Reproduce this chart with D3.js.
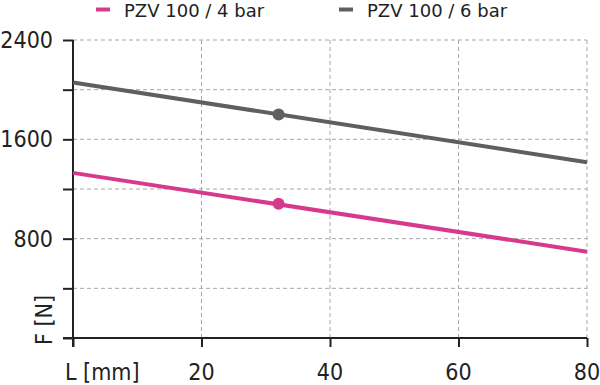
<!DOCTYPE html>
<html>
<head>
<meta charset="utf-8">
<script src="https://cdn.jsdelivr.net/npm/d3@7"></script>
<style>
  body { margin: 0; background: #fff; }
  text { font-family: "DejaVu Sans Condensed", "DejaVu Sans", sans-serif; fill: #222; }
</style>
</head>
<body>
<svg id="chart"></svg>
<script>
var lengths = [0, 80]
var force4bar = [1330, 695]
var force6bar = [2058, 1415]
var markLength = 32
var markForce = [1082, 1800]
var seriesNames = ["PZV 100 / 4 bar", "PZV 100 / 6 bar"]
var colors = ["#d63a8e", "#5f5f5f"]
var xTicks = [0, 20, 40, 60, 80]
var yTicks = [0, 400, 800, 1200, 1600, 2000, 2400]
var yLabels = [800, 1600, 2400]

var width = 600,
    height = 385

var svg = d3.select("#chart")
    .attr("width", width)
    .attr("height", height)

var x = d3.scaleLinear().domain([0, 80]).range([73, 587])
var y = d3.scaleLinear().domain([0, 2400]).range([338, 40])

// grid
svg.selectAll(".hgrid").data(yTicks.filter(function(d){ return d > 0 }))
    .enter().append("line")
    .attr("x1", x(0)).attr("x2", x(80))
    .attr("y1", function(d){ return y(d) }).attr("y2", function(d){ return y(d) })
    .style("stroke", "#a8a8a8").style("stroke-width", 1).style("stroke-dasharray", "4,3")

svg.selectAll(".vgrid").data(xTicks.filter(function(d){ return d > 0 }))
    .enter().append("line")
    .attr("x1", function(d){ return x(d) }).attr("x2", function(d){ return x(d) })
    .attr("y1", y(2400)).attr("y2", y(0))
    .style("stroke", "#a8a8a8").style("stroke-width", 1).style("stroke-dasharray", "4,3")

// axes
var xAxis = d3.axisBottom(x).tickValues(xTicks).tickSize(9).tickFormat("")
var yAxis = d3.axisLeft(y).tickValues(yTicks).tickSize(10).tickFormat("")

svg.append("g").attr("transform", "translate(0," + y(0) + ")").call(xAxis)
    .call(function(g){ g.select(".domain").attr("d", "M" + (x(0) - 10) + ",0H" + x(80)) })
svg.append("g").attr("transform", "translate(" + x(0) + ",0)").call(yAxis)
    .call(function(g){ g.select(".domain").attr("d", "M0," + y(2400) + "V" + (y(0) + 9)) })

svg.selectAll(".domain, .tick line").style("stroke", "#222").style("stroke-width", 2)

// tick labels
svg.selectAll(".xlab").data(xTicks.filter(function(d){ return d > 0 }))
    .enter().append("text")
    .attr("x", function(d){ return x(d) })
    .attr("y", 380)
    .attr("text-anchor", "middle")
    .style("font-size", "23px")
    .text(function(d){ return d })

svg.selectAll(".ylab").data(yLabels)
    .enter().append("text")
    .attr("x", 53)
    .attr("y", function(d){ return y(d) })
    .attr("dy", "0.35em")
    .attr("text-anchor", "end")
    .style("font-size", "23px")
    .text(function(d){ return d })

svg.append("text")
    .attr("x", 65).attr("y", 380)
    .style("font-size", "23px")
    .text("L [mm]")

svg.append("text")
    .attr("transform", "translate(52,345) rotate(-90)")
    .style("font-size", "23px")
    .text("F [N]")

// lines
var series = [force4bar, force6bar]
var line = d3.line()
    .x(function(d, i){ return x(lengths[i]) })
    .y(function(d){ return y(d) })

svg.selectAll(".series").data(series)
    .enter().append("path")
    .attr("d", line)
    .attr("fill", "none")
    .style("stroke", function(d, i){ return colors[i] })
    .style("stroke-width", 4)

svg.selectAll(".mark").data(markForce)
    .enter().append("circle")
    .attr("cx", x(markLength))
    .attr("cy", function(d){ return y(d) })
    .attr("r", 6)
    .attr("fill", function(d, i){ return colors[i] })

// legend
var legendX = [96, 339]
var leg = svg.selectAll(".legend").data(seriesNames)
    .enter().append("g")
    .attr("transform", function(d, i){ return "translate(" + legendX[i] + ",0)" })
leg.append("line")
    .attr("x1", 0).attr("x2", 14).attr("y1", 9.5).attr("y2", 9.5)
    .style("stroke", function(d, i){ return colors[i] })
    .style("stroke-width", 4)
leg.append("text")
    .attr("x", 28).attr("y", 17)
    .style("font-family", "'DejaVu Sans', sans-serif")
    .style("font-size", "18px")
    .text(function(d){ return d })
</script>
</body>
</html>
